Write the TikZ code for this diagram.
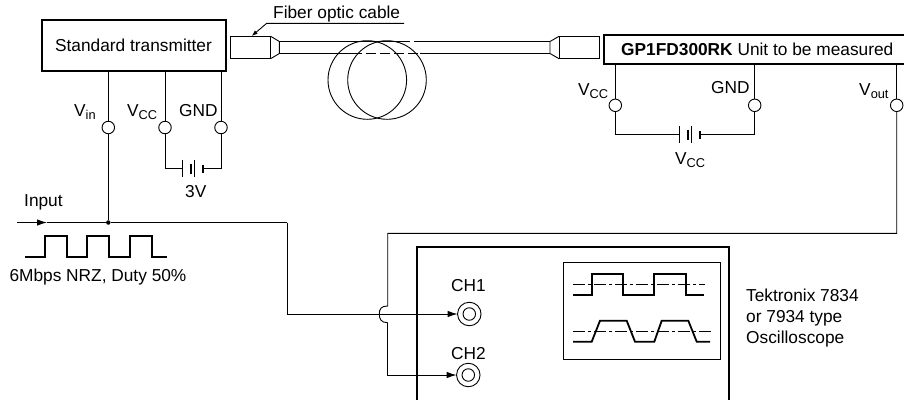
\documentclass[tikz,border=0pt]{standalone}
\usepackage{fontspec}
\setmainfont{Liberation Sans}
\usetikzlibrary{calc, arrows.meta}
\newcommand{\vsub}[1]{V\raisebox{-3pt}{\fontsize{12.8}{14}\selectfont #1}}
\tikzset{
    lab/.style={inner sep=0pt,anchor=base west},
    devbox/.style={draw,line width=2pt,inner sep=0pt,outer sep=0pt},
    terminal/.style={circle,draw,fill=white,inner sep=0pt,minimum size=12.5pt,line width=0.9pt},
    jack/.style={circle,draw,fill=white,inner sep=0pt,outer sep=0pt,line width=0.9pt},
    joint/.style={circle,fill=black,inner sep=0pt,minimum size=4.5pt},
    wire/.style={line width=0.9pt},
    sig/.style={line width=1.8pt},
    tip/.style={-{Latex[length=10pt,width=6.5pt]}}
}
\begin{document}
\begin{tikzpicture}[x=1pt,y=-1pt,font=\fontsize{17.3}{21}\selectfont]
    \useasboundingbox (0,0) rectangle (904,400);

    \node[devbox,minimum width=184pt,minimum height=51pt] (trans) at (133.5,45.5) {Standard transmitter};
    \node[devbox,minimum width=302pt,minimum height=29pt,anchor=west] (dut) at (604.3,49.2) {};
    \node[inner sep=0pt,anchor=west] (dutname) at (621,49) {\textbf{GP1FD300RK} Unit to be measured};

    \node[terminal] (vin) at (108.3,127.5) {};
    \node[terminal] (vcca) at (165,127.5) {};
    \node[terminal] (gnda) at (221,127.5) {};
    \node[terminal] (vccb) at (615.3,105.3) {};
    \node[terminal] (gndb) at (754.7,105.3) {};
    \node[terminal] (vout) at (896.7,105.3) {};

    \node[lab] (vinlab) at (74,116) {\vsub{in}};
    \node[lab] (vccalab) at (127,116) {\vsub{CC}};
    \node[lab] (gndalab) at (179,116) {GND};
    \node[lab] (vccblab) at (578,95) {\vsub{CC}};
    \node[lab] (gndblab) at (711,93) {GND};
    \node[lab] (voutlab) at (859,95) {\vsub{out}};
    \node[lab] (threev) at (185,197) {3V};
    \node[lab] (vcclab) at (675,164) {\vsub{CC}};

    \foreach \x/\y in {182/168.5, 679/134.7} {
        \draw[wire] (\x,\y-8.3)--(\x,\y+8.3);
        \draw[wire] (\x+12.7,\y-8.3)--(\x+12.7,\y+8.3);
        \draw[line width=2pt] (\x+8.7,\y-5)--(\x+8.7,\y+5);
        \draw[line width=2pt] (\x+21.3,\y-4)--(\x+21.3,\y+4);
    }
    \coordinate (bata) at (182,168.5);
    \coordinate (batb) at (203.3,168.5);
    \coordinate (batc) at (679,134.7);
    \coordinate (batd) at (700.3,134.7);

    \draw[wire] (vcca |- trans.south)--(vcca);
    \draw[wire] (gnda |- trans.south)--(gnda);
    \draw[wire] (vin |- trans.south)--(vin);
    \draw[wire] (vcca)|-(bata);
    \draw[wire] (gnda)|-(batb);
    \draw[wire] (vccb |- dut.south)--(vccb);
    \draw[wire] (gndb |- dut.south)--(gndb);
    \draw[wire] (vout |- dut.south)--(vout);
    \draw[wire] (vccb)|-(batc);
    \draw[wire] (gndb)|-(batd);

    \node[joint] (injoint) at (108.3,222.5) {};
    \coordinate (instart) at (17,222.5);
    \coordinate (inarrow) at (47,222.5);
    \draw[wire] (vin)--(injoint);
    \draw[wire,tip] (instart)--(inarrow);
    \draw[wire] (inarrow)--(injoint);
    \node[lab] (inputlab) at (24,206) {Input};
    \draw[sig] (25,256.7)--(45,256.7)--(45,236)--(66.7,236)--(66.7,256.7)--(87.3,256.7)--(87.3,236)--(109,236)--(109,256.7)--(130,256.7)--(130,236)--(152,236)--(152,256.7)--(167,256.7);
    \node[lab] (ratelab) at (9.3,281) {6Mbps NRZ, Duty 50\%};

    \draw[wire] (230.7,36.3) rectangle (270.7,58.7);
    \draw[wire] (270.7,36.3)--(279.3,41.5)--(279.3,53.5)--(270.7,58.7);
    \draw[wire] (559,36.3)--(599,36.3)--(599,58.7)--(559,58.7)--cycle;
    \draw[wire] (559,36.3)--(550,41.5)--(550,53.5)--(559,58.7);
    \draw[wire] (279.3,41.5)--(400,41.5);
    \draw[wire,dash pattern=on 10pt off 4pt] (400,41.5)--(420,41.5);
    \draw[wire] (420,41.5)--(550,41.5);
    \draw[wire] (279.3,53.5)--(352,53.5);
    \draw[wire,dash pattern=on 10pt off 4pt] (352,53.5)--(420,53.5);
    \draw[wire] (420,53.5)--(550,53.5);
    \draw[wire] (367.3,80) circle (39.3);
    \draw[wire] (387,80) circle (39.3);

    \node[lab] (fiberlab) at (273,18) {Fiber optic cable};
    \coordinate (leadend) at (404,23.3);
    \coordinate (leadknee) at (266.7,23.3);
    \coordinate (leadtip) at (251.7,36);
    \draw[wire,-{Latex[length=6pt,width=4.5pt]}] (leadend)--(leadknee)--(leadtip);

    \draw[line width=2pt] (417,400)--(417,247.3)--(729.3,247.3)--(729.3,400);
    \node[jack,minimum size=23.5pt] (chone) at (469.3,314) {};
    \node[jack,minimum size=12.5pt] (choneinner) at (chone) {};
    \node[jack,minimum size=23.5pt] (chtwo) at (468.3,375) {};
    \node[jack,minimum size=12.5pt] (chtwoinner) at (chtwo) {};
    \node[lab] (chonelab) at (451,291) {CH1};
    \node[lab] (chtwolab) at (451,359) {CH2};

    \coordinate (inturn) at (287,222.5);
    \coordinate (voutturn) at (896.7,233.3);
    \coordinate (scopeturn) at (387.7,233.3);
    \draw[wire] (injoint)--(inturn);
    \draw[wire,tip] (inturn)|-(chone);
    \draw[wire] (vout)--(voutturn)--(scopeturn)--(387.7,306)
        .. controls (381,306) and (379.3,309) .. (379.3,314)
        .. controls (379.3,319) and (381,322.7) .. (387.7,322.7);
    \coordinate (bumpend) at (387.7,322.7);
    \draw[wire,tip] (bumpend)|-(chtwo);

    \draw[wire] (563.3,262.3) rectangle (720,359.3);
    \draw[wire,dash pattern=on 12pt off 3pt on 3pt off 3pt] (573,284.7)--(705,284.7);
    \draw[wire,dash pattern=on 12pt off 3pt on 3pt off 3pt] (573,331.7)--(711,331.7);
    \draw[sig] (573.3,295)--(591.7,295)--(591.7,274)--(623.3,274)--(623.3,295)--(654,295)--(654,274)--(685.7,274)--(685.7,295)--(704.3,295);
    \draw[sig] (573,341.7)--(591.7,341.7)--(600,320.7)--(626.7,320.7)--(635,341.7)--(654.3,341.7)--(661.7,320.7)--(688.3,320.7)--(696.7,341.7)--(710,341.7);

    \node[lab,align=left,anchor=north west] (scopelab) at (746,289) {Tektronix 7834\\or 7934 type\\Oscilloscope};
\end{tikzpicture}
\end{document}
